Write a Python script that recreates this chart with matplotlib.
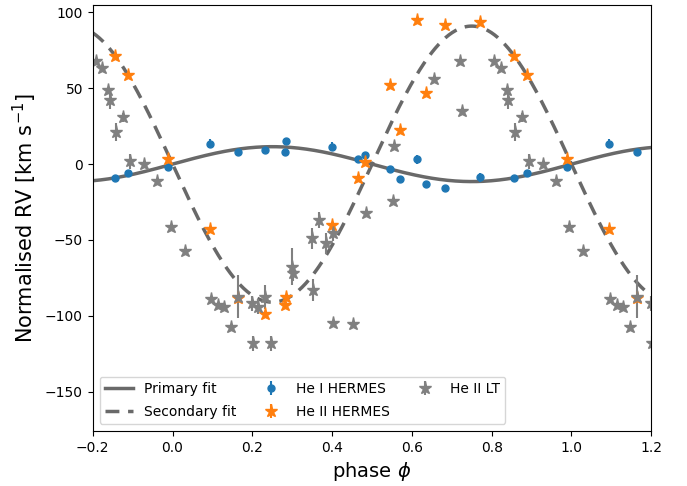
import numpy as np
import matplotlib.pyplot as plt

# orbital fit semi-amplitudes (km/s)
K1 = 11.5
K2 = 91.0

# HERMES epochs (phase), shared by both He lines
hermes_phase = [0.093, 0.164, 0.232, 0.281, 0.284, 0.399, 0.466, 0.483, 0.545,
                0.569, 0.612, 0.636, 0.683, 0.771, 0.856, 0.889, 0.989]
hei_rv = [13.4, 7.7, 9.4, 8.0, 15.0, 11.6, 3.3, 6.0, -3.0,
          -9.7, 3.3, -12.8, -15.9, -8.8, -9.3, -5.8, -2.2]
hei_err = [3, 1, 1, 1, 1, 3, 1, 1, 1, 1, 3, 1, 1, 3, 1, 1, 1]
heii_rv = [-42.7, -88.5, -98.9, -93.0, -87.5, -40.1, -9.3, 1.7, 52.4,
           22.2, 95.3, 46.9, 91.5, 93.8, 71.3, 58.5, 3.3]
heii_err = [1] * len(heii_rv)

# LT epochs
lt_phase = [0.030, 0.097, 0.114, 0.130, 0.147, 0.164, 0.200, 0.201, 0.214,
            0.231, 0.247, 0.300, 0.301, 0.349, 0.353, 0.367, 0.385, 0.401,
            0.403, 0.452, 0.485, 0.552, 0.556, 0.656, 0.721, 0.725, 0.807,
            0.824, 0.838, 0.842, 0.859, 0.876, 0.893, 0.928, 0.962, 0.995]
lt_rv = [-57.3, -89.2, -93.0, -94.0, -107.3, -87.4, -91.8, -118.0, -94.0,
         -87.4, -118.0, -67.6, -72.0, -48.9, -83.0, -36.8, -52.2, -45.6,
         -105.0, -105.7, -32.0, -24.0, 12.1, 56.3, 68.2, 35.2, 67.8,
         63.4, 49.1, 42.5, 21.0, 31.0, 2.0, 0.0, -11.0, -41.2]
lt_err = [1, 1, 1, 1, 1, 14, 5, 5, 5,
          8, 5, 12, 5, 7, 7, 5, 7, 5,
          1, 1, 1, 1, 1, 1, 1, 1, 1,
          1, 2, 6, 6, 3, 5, 1, 1, 1]


def wrap(ph, y, e):
    # repeat one cycle either side so -0.2..1.2 is covered
    ph = np.asarray(ph)
    return (np.concatenate([ph - 1, ph, ph + 1]),
            np.tile(y, 3), np.tile(e, 3))


fig = plt.figure(figsize=(6.87, 4.86), dpi=100)
ax = fig.add_axes([0.135, 0.113, 0.813, 0.877])

phi = np.linspace(-0.2, 1.2, 500)
ax.plot(phi, K1 * np.sin(2 * np.pi * phi), c='dimgray', lw=2.5, ls='-', label='Primary fit')
ax.plot(phi, -K2 * np.sin(2 * np.pi * phi), c='dimgray', lw=2.5, ls=(0, (4, 2.5)), label='Secondary fit')

x, y, e = wrap(hermes_phase, hei_rv, hei_err)
ax.errorbar(x, y, yerr=e, fmt='o', ms=5, c='C0', label='He I HERMES')
x, y, e = wrap(hermes_phase, heii_rv, heii_err)
ax.errorbar(x, y, yerr=e, fmt='*', ms=9.5, c='C1', label='He II HERMES')
x, y, e = wrap(lt_phase, lt_rv, lt_err)
ax.errorbar(x, y, yerr=e, fmt='*', ms=9.5, c='gray', label='He II LT')

ax.set_xlim(-0.2, 1.2)
ax.set_ylim(-176, 105)
ax.set_xlabel(r'phase $\phi$', fontsize=14)
ax.set_ylabel(r'Normalised RV [km s$^{-1}$]', fontsize=15)
ax.legend(loc='lower left', ncol=3, fontsize=10, columnspacing=1.5, labelspacing=0.6)

fig.savefig('out.png', dpi=100)
